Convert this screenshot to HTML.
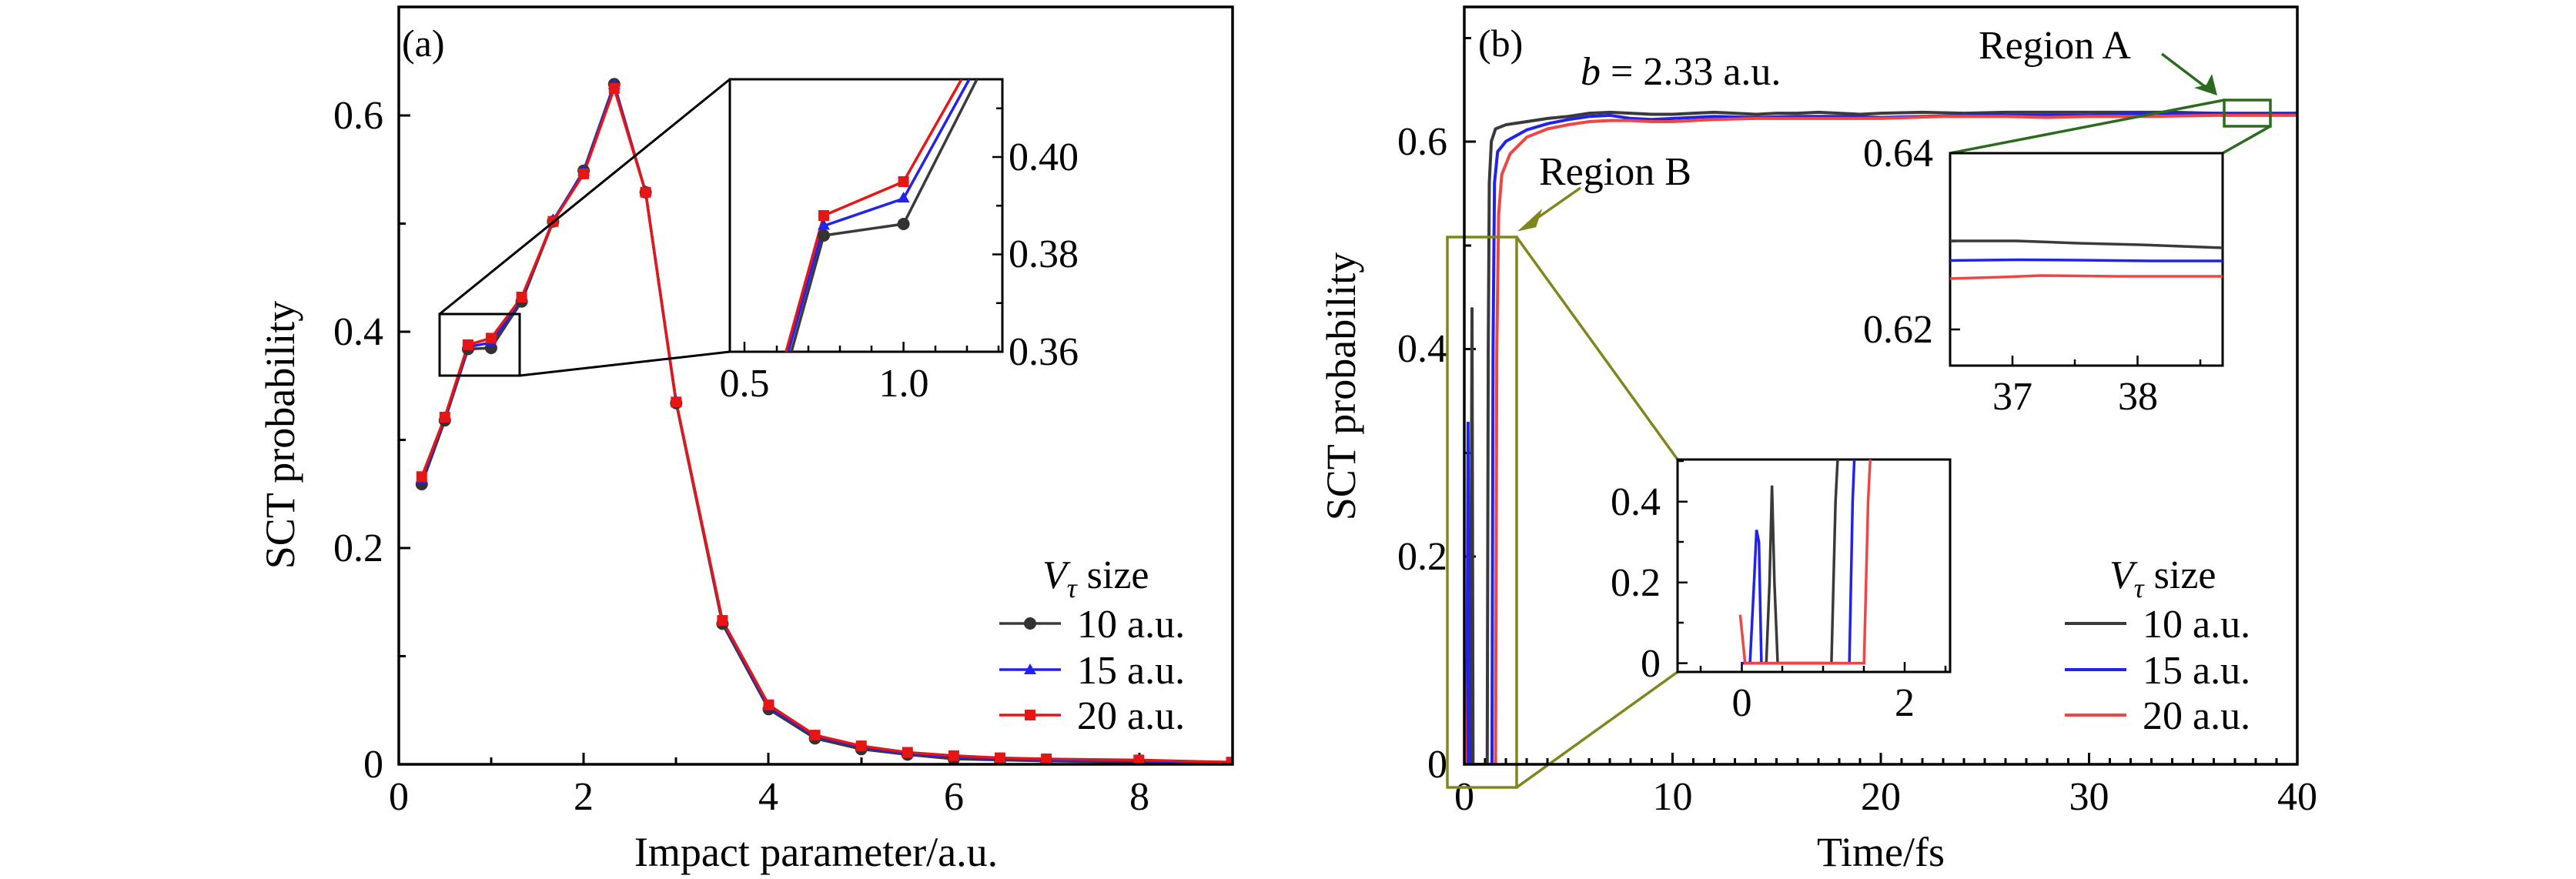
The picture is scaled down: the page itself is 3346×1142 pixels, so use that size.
<!DOCTYPE html>
<html><head><meta charset="utf-8"><style>
html,body{margin:0;padding:0;background:#fff;}
svg{display:block;font-family:"Liberation Serif","DejaVu Serif",serif;}
svg text{font-family:"Liberation Serif","DejaVu Serif",serif;fill:#000;}
</style></head><body>
<svg width="3346" height="1142" viewBox="0 0 3346 1142" xmlns="http://www.w3.org/2000/svg" font-family="Liberation Serif, DejaVu Serif, serif">
<defs>
<clipPath id="ca"><rect x="518" y="9" width="1083" height="984"/></clipPath>
<clipPath id="cai"><rect x="948" y="103" width="354" height="354"/></clipPath>
<clipPath id="cb"><rect x="1902" y="9" width="1082" height="984"/></clipPath>
<clipPath id="cbA"><rect x="2533" y="199" width="354" height="276"/></clipPath>
<clipPath id="cbB"><rect x="2179" y="597" width="354" height="276"/></clipPath>
</defs>

<!-- ================= PANEL A ================= -->
<g font-size="52">
<text x="498" y="1010" text-anchor="end">0</text>
<text x="498" y="729" text-anchor="end">0.2</text>
<text x="498" y="448" text-anchor="end">0.4</text>
<text x="498" y="167" text-anchor="end">0.6</text>
<text x="518" y="1052" text-anchor="middle">0</text>
<text x="758" y="1052" text-anchor="middle">2</text>
<text x="998" y="1052" text-anchor="middle">4</text>
<text x="1239" y="1052" text-anchor="middle">6</text>
<text x="1480" y="1052" text-anchor="middle">8</text>
</g>
<text x="1060" y="1125" font-size="54" text-anchor="middle">Impact parameter/a.u.</text>
<text transform="translate(382,565) rotate(-90)" font-size="54" text-anchor="middle">SCT probability</text>
<text x="518" y="73" font-size="50" dx="4">(a)</text>

<g stroke="#000" stroke-width="3">
<path d="M638 993v-9M878 993v-9M1119 993v-9M1359 993v-9M758 993v-15M998 993v-15M1239 993v-15M1480 993v-15"/>
<path d="M518 852.5h9M518 571.5h9M518 290.5h9M518 712h15M518 431h15M518 150h15"/>
</g>

<g clip-path="url(#ca)" fill="none" stroke-width="3.5" stroke-linejoin="round">
<polyline stroke="#3a3a3a" points="547.8,629.1 577.8,546.2 607.9,453.5 637.9,452.1 677.6,391.7 718.4,287.7 758.1,221.7 797.8,109.3 838.6,249.8 878.3,523.7 938.4,810.4 998.5,921.3 1058.6,959.3 1118.7,973.3 1178.8,980.4 1238.9,986 1299,987.4 1359.1,988.8 1479.3,990.2 1599.5,991.6"/>
<polyline stroke="#2222ee" points="547.8,623.5 577.8,543.4 607.9,450.7 637.9,445.1 677.6,388.9 718.4,286.3 758.1,223.1 797.8,110.7 838.6,249.8 878.3,522.3 938.4,807.5 998.5,918.5 1058.6,956.5 1118.7,970.5 1178.8,979 1238.9,983.2 1299,986 1359.1,987.4 1479.3,988.8 1599.5,990.2"/>
<polyline stroke="#e81515" points="547.8,619.3 577.8,542 607.9,447.9 637.9,439.4 677.6,386 718.4,287.7 758.1,225.9 797.8,114.9 838.6,249.8 878.3,522.3 938.4,806.1 998.5,915.7 1058.6,955.1 1118.7,969.1 1178.8,977.5 1238.9,981.8 1299,984.6 1359.1,986 1479.3,987.4 1599.5,990.2"/>
</g>
<g clip-path="url(#ca)">
<g fill="#333">
<circle cx="547.8" cy="629.1" r="8"/><circle cx="577.8" cy="546.2" r="8"/><circle cx="607.9" cy="453.5" r="8"/><circle cx="637.9" cy="452.1" r="8"/><circle cx="677.6" cy="391.7" r="8"/><circle cx="718.4" cy="287.7" r="8"/><circle cx="758.1" cy="221.7" r="8"/><circle cx="797.8" cy="109.3" r="8"/><circle cx="838.6" cy="249.8" r="8"/><circle cx="878.3" cy="523.7" r="8"/><circle cx="938.4" cy="810.4" r="8"/><circle cx="998.5" cy="921.3" r="8"/><circle cx="1058.6" cy="959.3" r="8"/><circle cx="1118.7" cy="973.3" r="8"/><circle cx="1178.8" cy="980.4" r="8"/><circle cx="1238.9" cy="986" r="8"/><circle cx="1299" cy="987.4" r="8"/><circle cx="1359.1" cy="988.8" r="8"/><circle cx="1479.3" cy="990.2" r="8"/>
</g>
<g fill="#2222ee">
<path d="M547.8,614.5l8,14h-16zM577.8,534.4l8,14h-16zM607.9,441.7l8,14h-16zM637.9,436.1l8,14h-16zM677.6,379.9l8,14h-16zM718.4,277.3l8,14h-16zM758.1,214.1l8,14h-16zM797.8,101.7l8,14h-16zM838.6,240.8l8,14h-16zM878.3,513.3l8,14h-16zM938.4,798.5l8,14h-16zM998.5,909.5l8,14h-16zM1058.6,947.5l8,14h-16zM1118.7,961.5l8,14h-16zM1178.8,970l8,14h-16zM1238.9,974.2l8,14h-16zM1299,977l8,14h-16zM1359.1,978.4l8,14h-16zM1479.3,979.8l8,14h-16z"/>
</g>
<g fill="#e81515">
<rect x="540.8" y="612.3" width="14" height="14"/><rect x="570.8" y="535" width="14" height="14"/><rect x="600.9" y="440.9" width="14" height="14"/><rect x="630.9" y="432.4" width="14" height="14"/><rect x="670.6" y="379" width="14" height="14"/><rect x="711.4" y="280.7" width="14" height="14"/><rect x="751.1" y="218.9" width="14" height="14"/><rect x="790.8" y="107.9" width="14" height="14"/><rect x="831.6" y="242.8" width="14" height="14"/><rect x="871.3" y="515.3" width="14" height="14"/><rect x="931.4" y="799.1" width="14" height="14"/><rect x="991.5" y="908.7" width="14" height="14"/><rect x="1051.6" y="948.1" width="14" height="14"/><rect x="1111.7" y="962.1" width="14" height="14"/><rect x="1171.8" y="970.5" width="14" height="14"/><rect x="1231.9" y="974.8" width="14" height="14"/><rect x="1292" y="977.6" width="14" height="14"/><rect x="1352.1" y="979" width="14" height="14"/><rect x="1472.3" y="980.4" width="14" height="14"/><rect x="1592.5" y="983.2" width="14" height="14"/>
</g>
</g>

<rect x="571" y="408" width="104" height="80" fill="none" stroke="#000" stroke-width="3"/>
<path d="M571 408L948 103M675 488L948 457" stroke="#000" stroke-width="3" fill="none"/>

<rect x="948" y="103" width="354" height="354" fill="#fff" stroke="#000" stroke-width="3"/>
<g stroke="#000" stroke-width="2.5">
<path d="M967 457v-13M1173.6 457v-13M1009 457v-8M1050 457v-8M1091 457v-8M1132 457v-8M1215 457v-8M1256 457v-8M1297 457v-8"/>
<path d="M1302 457h-13M1302 330.5h-13M1302 204h-13M1302 393.7h-8M1302 267.2h-8M1302 140.8h-8"/>
</g>
<g clip-path="url(#cai)" fill="none" stroke-width="3.5">
<polyline stroke="#3a3a3a" points="1028,457 1070,306 1173.6,291 1269,103"/>
<polyline stroke="#2222ee" points="1024,457 1070,293.5 1173.6,258 1259,103"/>
<polyline stroke="#e81515" points="1021,457 1070,280 1173.6,236 1249,103"/>
</g>
<circle cx="1070" cy="306" r="8" fill="#333"/><circle cx="1173.6" cy="291" r="8" fill="#333"/>
<path d="M1070,284.5l8,14h-16zM1173.6,249l8,14h-16z" fill="#2222ee"/>
<rect x="1063" y="273" width="14" height="14" fill="#e81515"/><rect x="1166.6" y="229" width="14" height="14" fill="#e81515"/>
<g font-size="52">
<text x="1310" y="474">0.36</text>
<text x="1310" y="347">0.38</text>
<text x="1310" y="221">0.40</text>
<text x="967" y="515" text-anchor="middle">0.5</text>
<text x="1174" y="515" text-anchor="middle">1.0</text>
</g>

<text x="1354" y="764" font-size="52"><tspan font-style="italic">V</tspan><tspan font-size="36" font-style="italic" dy="12">τ</tspan><tspan dy="-12"> size</tspan></text>
<g stroke-width="3.5">
<line x1="1298" y1="810" x2="1378" y2="810" stroke="#3a3a3a"/>
<line x1="1298" y1="870" x2="1378" y2="870" stroke="#2222ee"/>
<line x1="1298" y1="929" x2="1378" y2="929" stroke="#e81515"/>
</g>
<circle cx="1338" cy="810" r="8" fill="#333"/>
<path d="M1338,862l8,14h-16z" fill="#2222ee"/>
<rect x="1331" y="922" width="14" height="14" fill="#e81515"/>
<g font-size="52">
<text x="1399" y="828">10 a.u.</text>
<text x="1399" y="888">15 a.u.</text>
<text x="1399" y="947">20 a.u.</text>
</g>

<rect x="518" y="9" width="1083" height="984" fill="none" stroke="#000" stroke-width="3.5"/>

<!-- ================= PANEL B ================= -->
<g font-size="52">
<text x="1880" y="1010" text-anchor="end">0</text>
<text x="1880" y="740" text-anchor="end">0.2</text>
<text x="1880" y="470" text-anchor="end">0.4</text>
<text x="1880" y="201" text-anchor="end">0.6</text>
<text x="1902" y="1052" text-anchor="middle">0</text>
<text x="2172.5" y="1052" text-anchor="middle">10</text>
<text x="2443" y="1052" text-anchor="middle">20</text>
<text x="2713.5" y="1052" text-anchor="middle">30</text>
<text x="2984" y="1052" text-anchor="middle">40</text>
</g>
<text x="2443" y="1125" font-size="54" text-anchor="middle">Time/fs</text>
<text transform="translate(1760,502) rotate(-90)" font-size="54" text-anchor="middle">SCT probability</text>
<text x="1920" y="73" font-size="50">(b)</text>
<text x="2053" y="110" font-size="52"><tspan font-style="italic">b</tspan> = 2.33 a.u.</text>

<g stroke="#000" stroke-width="3">
<path d="M1929 993v-8M1956 993v-8M1983 993v-8M2010 993v-8M2037 993v-8M2064 993v-8M2091 993v-8M2118 993v-8M2145.5 993v-8M2199.5 993v-8M2226.5 993v-8M2253.5 993v-8M2280.5 993v-8M2307.5 993v-8M2335 993v-8M2362 993v-8M2389 993v-8M2416 993v-8M2470 993v-8M2497 993v-8M2524 993v-8M2551 993v-8M2578 993v-8M2605 993v-8M2632 993v-8M2659 993v-8M2686.5 993v-8M2740.5 993v-8M2767.5 993v-8M2794.5 993v-8M2821.5 993v-8M2848.5 993v-8M2875.5 993v-8M2903 993v-8M2930 993v-8M2957 993v-8"/>
<path d="M2172.5 993v-15M2443 993v-15M2713.5 993v-15"/>
<path d="M1902 723h15M1902 453.5h15M1902 184h15M1902 858h9M1902 588.5h9M1902 319h9M1902 49.5h9"/>
</g>

<g clip-path="url(#cb)">
<g transform="translate(1902,993) scale(27.05,-1349)" fill="none">
<path vector-effect="non-scaling-stroke" stroke="#3a3a3a" stroke-width="4" d="M0,0 L0.3,0 L0.37,0.44 L0.42,0 L1.1,0 L1.15,0.4 L1.2,0.56 L1.3,0.6 L1.5,0.612 L2,0.616 L3,0.619 L4,0.622 L5,0.624 L6,0.627 L7,0.628 L8,0.627 L9,0.626 L10,0.626 L11,0.627 L12,0.628 L13,0.627 L14,0.626 L15,0.627 L16,0.627 L17,0.628 L18,0.627 L19,0.626 L20,0.627 L22,0.628 L24,0.627 L26,0.628 L28,0.628 L30,0.628 L32,0.628 L34,0.628 L36,0.627 L38,0.627 L40,0.627"/>
<path vector-effect="non-scaling-stroke" stroke="#2222ee" stroke-width="4" d="M0,0 L0.12,0 L0.18,0.33 L0.24,0 L1.33,0 L1.38,0.4 L1.45,0.56 L1.6,0.59 L2,0.6 L3,0.611 L4,0.617 L5,0.621 L6,0.624 L7,0.625 L8,0.622 L9,0.621 L10,0.622 L12,0.624 L14,0.623 L16,0.624 L18,0.624 L20,0.623 L22,0.624 L25,0.625 L28,0.625 L30,0.625 L33,0.627 L36,0.627 L38,0.626 L40,0.627"/>
<path vector-effect="non-scaling-stroke" stroke="#f04545" stroke-width="4" d="M0,0.1 L0.05,0 L1.5,0 L1.56,0.4 L1.65,0.53 L1.8,0.568 L2.2,0.588 L3,0.604 L4,0.612 L5,0.616 L6,0.619 L7,0.62 L8,0.62 L9,0.619 L10,0.619 L12,0.621 L14,0.622 L16,0.622 L18,0.622 L20,0.622 L23,0.624 L26,0.624 L28,0.623 L30,0.624 L33,0.624 L36,0.625 L40,0.625"/>
</g>
</g>

<rect x="1880" y="308" width="90" height="715" fill="none" stroke="#80861c" stroke-width="3.5"/>
<path d="M1970 308L2179 597M1970 1023L2179 873" stroke="#80861c" stroke-width="3.5" fill="none"/>
<path d="M2053 244L1990 288" stroke="#80861c" stroke-width="3.5"/>
<path d="M1976 298L2000 276L1994 294z" fill="#80861c" stroke="#80861c" stroke-width="3"/>
<text x="1999" y="240" font-size="52">Region B</text>

<rect x="2889" y="130" width="60" height="34" fill="none" stroke="#2a6b1e" stroke-width="3.5"/>
<path d="M2889 130L2533 199M2949 164L2887 199" stroke="#2a6b1e" stroke-width="3.5" fill="none"/>
<path d="M2808 70L2870 117" stroke="#2a6b1e" stroke-width="3.5"/>
<path d="M2880 124L2850 114L2866 110L2873 96z" fill="#2a6b1e"/>
<text x="2570" y="76" font-size="52">Region A</text>

<rect x="2533" y="199" width="354" height="276" fill="#fff" stroke="#000" stroke-width="3"/>
<g stroke="#000" stroke-width="2.5">
<path d="M2614 475v-13M2776.5 475v-13M2695 475v-8M2858 475v-8M2533 199h13M2533 428h13M2533 313.5h8"/>
</g>
<g clip-path="url(#cbA)" fill="none" stroke-width="3.5">
<path stroke="#3a3a3a" d="M2533 313 L2620 313 L2700 316 L2780 318 L2887 322"/>
<path stroke="#2222ee" d="M2533 338.5 L2620 337.5 L2700 338 L2800 339 L2887 339"/>
<path stroke="#f04545" d="M2533 362 L2600 360 L2650 358 L2750 359 L2887 359"/>
</g>
<g font-size="52">
<text x="2511" y="216" text-anchor="end">0.64</text>
<text x="2511" y="445" text-anchor="end">0.62</text>
<text x="2614" y="532" text-anchor="middle">37</text>
<text x="2777" y="532" text-anchor="middle">38</text>
</g>

<rect x="2179" y="597" width="354" height="276" fill="#fff" stroke="#000" stroke-width="3"/>
<g stroke="#000" stroke-width="2.5">
<path d="M2262.5 873v-13M2474 873v-13M2368 873v-8M2209 873v-8M2315 873v-8M2421 873v-8M2527 873v-8"/>
<path d="M2179 861.6h13M2179 756.7h13M2179 651.8h13M2179 809h8M2179 704h8M2179 599h8"/>
</g>
<g clip-path="url(#cbB)">
<g transform="translate(2262.5,861.6) scale(105.8,-524.5)" fill="none">
<path vector-effect="non-scaling-stroke" stroke="#3a3a3a" stroke-width="3.5" d="M0,0 L0.3,0 L0.34,0.2 L0.37,0.44 L0.4,0.2 L0.44,0 L1.1,0 L1.15,0.4 L1.2,0.6"/>
<path vector-effect="non-scaling-stroke" stroke="#2222ee" stroke-width="3.5" d="M0,0 L0.1,0 L0.15,0.2 L0.18,0.33 L0.21,0.3 L0.24,0 L1.32,0 L1.36,0.4 L1.4,0.6"/>
<path vector-effect="non-scaling-stroke" stroke="#f04545" stroke-width="3.5" d="M-0.02,0.12 L0.04,0 L1.5,0 L1.55,0.4 L1.6,0.6"/>
</g>
</g>
<g font-size="52">
<text x="2157" y="879" text-anchor="end">0</text>
<text x="2157" y="774" text-anchor="end">0.2</text>
<text x="2157" y="669" text-anchor="end">0.4</text>
<text x="2262.5" y="930" text-anchor="middle">0</text>
<text x="2474" y="930" text-anchor="middle">2</text>
</g>

<text x="2740" y="764" font-size="52"><tspan font-style="italic">V</tspan><tspan font-size="36" font-style="italic" dy="12">τ</tspan><tspan dy="-12"> size</tspan></text>
<g stroke-width="4">
<line x1="2682" y1="810" x2="2762" y2="810" stroke="#3a3a3a"/>
<line x1="2682" y1="870" x2="2762" y2="870" stroke="#2222ee"/>
<line x1="2682" y1="929" x2="2762" y2="929" stroke="#f04545"/>
</g>
<g font-size="52">
<text x="2783" y="828">10 a.u.</text>
<text x="2783" y="888">15 a.u.</text>
<text x="2783" y="947">20 a.u.</text>
</g>

<rect x="1902" y="9" width="1082" height="984" fill="none" stroke="#000" stroke-width="3.5"/>
</svg>
</body></html>
